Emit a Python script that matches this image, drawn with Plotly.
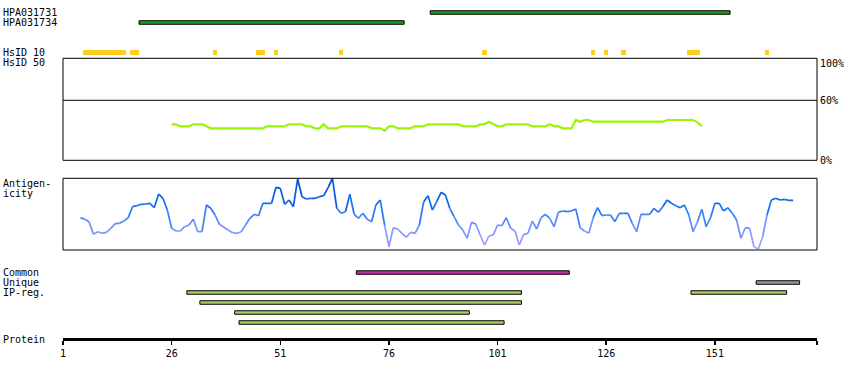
import plotly.graph_objects as go

# ---------------- data ----------------
protein_length = 174
tick_residues = [1, 26, 51, 76, 101, 126, 151]

antibodies = ["HPA031731", "HPA031734"]
ab_start = [86, 19]
ab_end = [154, 79]

hsid10_start = [6, 17, 36, 46, 50, 65, 98, 123, 126, 130, 145, 163]
hsid10_end = [15, 18, 36, 47, 50, 65, 98, 123, 126, 130, 147, 163]

hsid50_first = 26
hsid50_pct = [36, 36, 34, 34, 34, 36, 36, 36, 34,
              32, 32, 32, 32, 32, 32, 32, 32, 32, 32, 32, 32, 32,
              34, 34, 34, 34, 34,
              36, 36, 36, 36,
              34, 34,
              32, 32,
              36,
              32, 32, 32,
              34, 34, 34, 34, 34, 34, 34,
              32, 32, 32,
              29.6,
              34, 34,
              32, 32, 32, 32,
              34, 34, 34,
              36, 36, 36, 36, 36, 36, 36, 36,
              34, 34, 34, 34,
              36, 36,
              38.6,
              36,
              34, 34,
              36, 36, 36, 36, 36, 36,
              34, 34, 34, 34,
              36,
              34, 34,
              32, 32, 32,
              40.3,
              38.6,
              40.3, 40.3,
              38.6, 38.6, 38.6, 38.6, 38.6, 38.6, 38.6, 38.6, 38.6, 38.6,
              38.6, 38.6, 38.6, 38.6, 38.6, 38.6, 38.6,
              40.3, 40.3, 40.3, 40.3, 40.3, 40.3, 40.3,
              38, 34]

antigen_first = 5
antigenicity = [32.3, 30.7, 28.3, 15.7, 18.3, 16.7, 17.7, 21.7, 26.3, 26.7,
                29.0, 32.3, 43.3, 44.3, 45.7, 46.0, 46.7, 42.3, 56.0, 51.7,
                40.0, 21.7, 19.0, 19.0, 23.3, 25.0, 30.7, 18.3, 18.3, 45.0,
                41.7, 35.0, 25.7, 22.7, 20.0, 17.3, 16.7, 18.3, 25.0, 31.7,
                35.7, 34.3, 46.7, 46.7, 46.7, 62.7, 61.7, 45.7, 50.0, 43.3,
                71.0, 53.3, 51.0, 51.7, 51.7, 53.3, 54.3, 62.3, 71.7, 41.7,
                36.7, 38.3, 55.7, 35.7, 31.7, 36.7, 30.7, 28.3, 45.0, 50.0,
                25.0, 3.3, 22.3, 21.0, 16.7, 12.7, 17.7, 16.7, 25.0, 48.3,
                54.3, 40.0, 48.3, 57.7, 55.0, 41.7, 33.3, 25.0, 20.0, 11.7,
                27.7, 25.7, 15.0, 5.0, 14.0, 15.0, 25.0, 24.3, 32.3, 21.7,
                19.0, 5.0, 15.7, 16.7, 29.0, 21.0, 32.3, 35.7, 31.7, 23.3,
                37.7, 39.0, 38.3, 39.0, 41.0, 22.3, 19.0, 16.7, 32.3, 42.3,
                34.3, 35.0, 35.0, 28.3, 36.7, 36.7, 36.7, 26.7, 18.3, 35.7,
                35.7, 35.7, 41.7, 37.7, 43.3, 50.0, 46.7, 44.3, 42.3, 45.0,
                35.0, 18.3, 28.3, 40.7, 23.3, 32.3, 46.7, 46.7, 39.0, 42.3,
                36.7, 30.0, 11.7, 22.3, 21.7, 3.3, 1.0, 13.3, 35.0, 50.0,
                51.7, 50.0, 50.7, 49.7, 49.7]

common_start, common_end = [69], [117]
unique_start, unique_end = [161], [170]
ipreg_start = [30, 146, 33, 41, 42]
ipreg_end = [106, 167, 106, 94, 102]
ipreg_lane = [0, 0, 1, 2, 3]

# ---------------- styling ----------------
FONT = dict(family="DejaVu Sans Mono", size=10, color="black")
AB_GREEN = "#1e9e1e"
YELLOW = "#ffcc22"
MAGENTA = "#cc2aa5"
GRAY = "#999999"
IP_GREEN = "#a6ce60"
HSID_LINE = "#9af500"
AG_MAX = 71.7

FIG_W, FIG_H = 850, 380
M_L, M_R, M_T, M_B = 63, 33, 0, 41
H = FIG_H - M_T - M_B  # plot-area height (px)
PW = FIG_W - M_L - M_R

fig = go.Figure()


def hbar(starts, ends, rows, color, yaxis, width, line=True):
    fig.add_trace(go.Bar(
        orientation="h",
        base=[s - 0.5 for s in starts],
        x=[e - s + 1 for s, e in zip(starts, ends)],
        y=rows,
        width=width,
        marker=dict(color=color,
                    line=dict(color="black", width=1 if line else 0)),
        yaxis=yaxis, xaxis="x", hoverinfo="skip", showlegend=False))


hbar(ab_start, ab_end, [0, 1], AB_GREEN, "y", 0.35)
hbar(hsid10_start, hsid10_end, [4] * len(hsid10_start), YELLOW, "y", 0.5, line=False)

fig.add_trace(go.Scatter(
    x=[hsid50_first + i for i in range(len(hsid50_pct))], y=hsid50_pct,
    mode="lines", line=dict(color=HSID_LINE, width=2.2),
    yaxis="y2", xaxis="x", hoverinfo="skip", showlegend=False))

stops = [(0.0, (175, 165, 255)), (0.3, (125, 145, 255)), (0.5, (45, 125, 255)),
         (0.7, (10, 100, 240)), (1.0, (0, 72, 200))]


def colour(t):
    t = max(0.0, min(1.0, t))
    for (t0, c0), (t1, c1) in zip(stops[:-1], stops[1:]):
        if t <= t1:
            f = (t - t0) / (t1 - t0)
            return "rgb(%d,%d,%d)" % tuple(round(a + (b - a) * f) for a, b in zip(c0, c1))
    return "rgb(%d,%d,%d)" % stops[-1][1]


NB = 14
bins = {k: ([], []) for k in range(NB)}
ag_x = [antigen_first + i for i in range(len(antigenicity))]
for i in range(len(antigenicity) - 1):
    v = (antigenicity[i] + antigenicity[i + 1]) / 2
    k = min(NB - 1, int(v / AG_MAX * NB))
    xs, ys = bins[k]
    xs += [ag_x[i], ag_x[i + 1], None]
    ys += [antigenicity[i], antigenicity[i + 1], None]
for k, (xs, ys) in bins.items():
    if xs:
        fig.add_trace(go.Scatter(
            x=xs, y=ys, mode="lines",
            line=dict(color=colour((k + 0.5) / NB), width=1.7),
            yaxis="y3", xaxis="x", hoverinfo="skip", showlegend=False))

hbar(common_start, common_end, [0], MAGENTA, "y4", 0.35)
hbar(unique_start, unique_end, [1], GRAY, "y4", 0.35)
hbar(ipreg_start, ipreg_end, [2 + l for l in ipreg_lane], IP_GREEN, "y4", 0.35)


def dom(top_px, bottom_px):
    """pixel rows -> paper fractions"""
    return [1 - (bottom_px - M_T) / H, 1 - (top_px - M_T) / H]


hidden = dict(visible=False, showgrid=False, zeroline=False, fixedrange=True)

fig.update_layout(
    width=FIG_W, height=FIG_H,
    margin=dict(l=M_L, r=M_R, t=M_T, b=M_B, autoexpand=False),
    paper_bgcolor="white", plot_bgcolor="white",
    barmode="overlay", bargap=0,
    showlegend=False,
    font=FONT,
    xaxis=dict(range=[1, protein_length + 0.5], anchor="free", position=0,
               showgrid=False, zeroline=False, showline=True, linecolor="black",
               linewidth=2.5, ticks="outside", ticklen=4, tickwidth=1.5,
               tickcolor="black",
               tickvals=tick_residues + [protein_length + 0.5],
               ticktext=[str(t) for t in tick_residues] + [""],
               tickfont=FONT, fixedrange=True),
    yaxis=dict(domain=dom(7.5, 57.5), range=[4.5, -0.5], **hidden),
    yaxis2=dict(domain=dom(58.3, 160.3), range=[0, 102], **hidden),
    yaxis3=dict(domain=dom(178.3, 250), range=[0, AG_MAX], **hidden),
    yaxis4=dict(domain=dom(267.5, 327.5), range=[5.5, -0.5], **hidden),
)

for ax in ["y2", "y3"]:
    fig.add_shape(type="rect", xref="paper", yref=ax + " domain",
                  x0=0, x1=1, y0=0, y1=1, line=dict(color="black", width=1))
fig.add_shape(type="line", xref="paper", yref="y2", x0=0, x1=1, y0=60, y1=60,
              line=dict(color="black", width=1))

LX = -62 / PW
labels = [("HPA031731", "y", 0), ("HPA031734", "y", 1), ("HsID 10", "y", 4),
          ("HsID 50", "y2", 97.8), ("Antigen-", "y3", 67), ("icity", "y3", 57),
          ("Common", "y4", 0), ("Unique", "y4", 1), ("IP-reg.", "y4", 2),
          ("Protein", "paper", 0)]
for txt, yref, yv in labels:
    fig.add_annotation(text=txt, xref="paper", x=LX, xanchor="left",
                       yref=yref, y=yv, yanchor="middle", showarrow=False,
                       font=FONT)

RX = 1 + 1.0 / PW
for txt, yv in [("100%", 97), ("60%", 60), ("0%", 0)]:
    fig.add_annotation(text=txt, xref="paper", x=RX, xanchor="left",
                       yref="y2", y=yv, yanchor="middle", showarrow=False,
                       font=FONT)

fig.write_html("out.html",
               config={"displayModeBar": False, "staticPlot": True},
               post_script="document.body.style.margin='0';"
                           "document.body.style.overflow='hidden';")
